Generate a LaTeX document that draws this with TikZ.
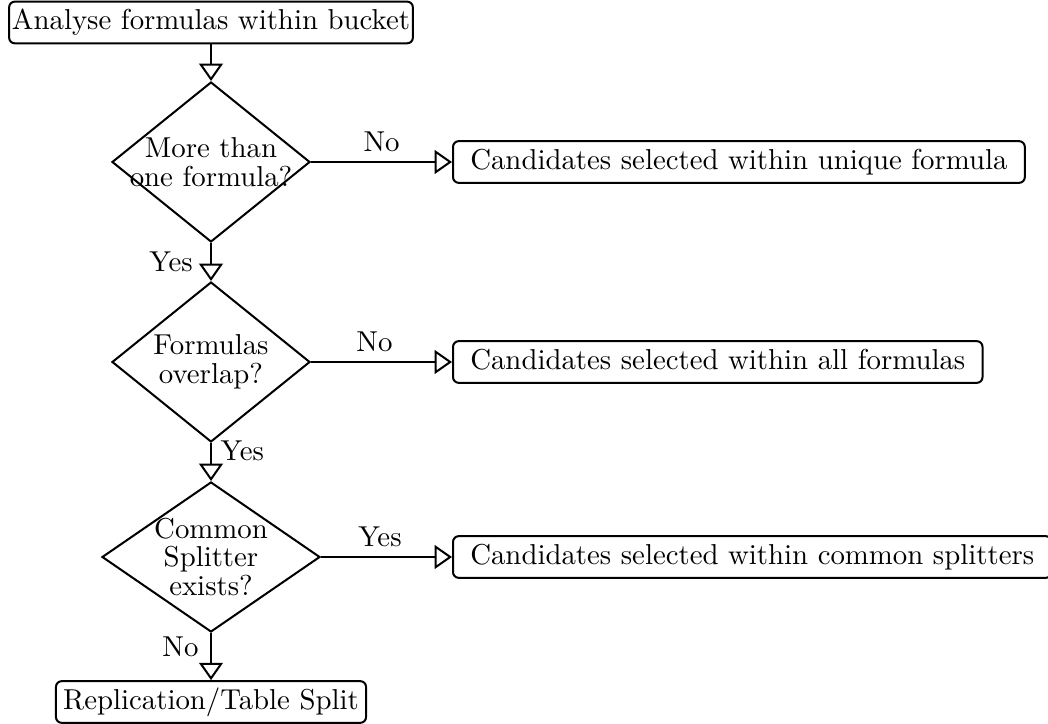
\documentclass[tikz,border=0pt]{standalone}
\usetikzlibrary{shapes.geometric,arrows.meta}
\begin{document}
\begin{tikzpicture}[x=0.34722pt,y=-0.34722pt,
  line width=0.7pt,
  leftbox/.style={draw,rounded corners=2pt,inner xsep=1pt,inner ysep=2.8pt,text height=6.94pt,text depth=1.94pt},
  rightbox/.style={leftbox,inner xsep=6pt,anchor=west},
  decision/.style={draw,diamond,inner sep=0pt},
  dtext/.style={align=center,font=\fontsize{10pt}{10pt}\selectfont},
  flow/.style={-{Triangle[open,length=6pt,width=8.2pt]}}
]
\useasboundingbox (0,0) rectangle (1048,724);

\node[leftbox] (top) at (211,22.5) {Analyse formulas within bucket};

\node[decision,minimum width=68.75pt,minimum height=55.56pt,
  label={[dtext]center:{More than\\one formula?}}] (d1) at (211,162) {};
\node[rightbox] (c1) at (452,162) {Candidates selected within unique formula};

\node[decision,minimum width=68.75pt,minimum height=55.56pt,
  label={[dtext]center:{Formulas\\overlap?}}] (d2) at (211,362) {};
\node[rightbox] (c2) at (452,362) {Candidates selected within all formulas};

\node[decision,minimum width=75.69pt,minimum height=52.08pt,
  label={[dtext]center:{Common\\Splitter\\exists?}}] (d3) at (211,557) {};
\node[rightbox] (c3) at (452,557) {Candidates selected within common splitters};

\node[leftbox,inner xsep=2.5pt] (rep) at (211,702) {Replication/Table Split};

\draw[flow] (top.south) -- (d1.north);
\draw[flow] (d1.east) -- node[above] {No} (c1.west);
\draw[flow] (d1.south) -- node[left,inner sep=6pt] {Yes} (d2.north);
\draw[flow] (d2.east) -- node[above,pos=0.45] {No} (c2.west);
\draw[flow] (d2.south) -- node[right,pos=0.2,inner sep=3pt] {Yes} (d3.north);
\draw[flow] (d3.east) -- node[above,pos=0.45] {Yes} (c3.west);
\draw[flow] (d3.south) -- node[left,pos=0.3,inner sep=4pt] {No} (rep.north);
\end{tikzpicture}
\end{document}
